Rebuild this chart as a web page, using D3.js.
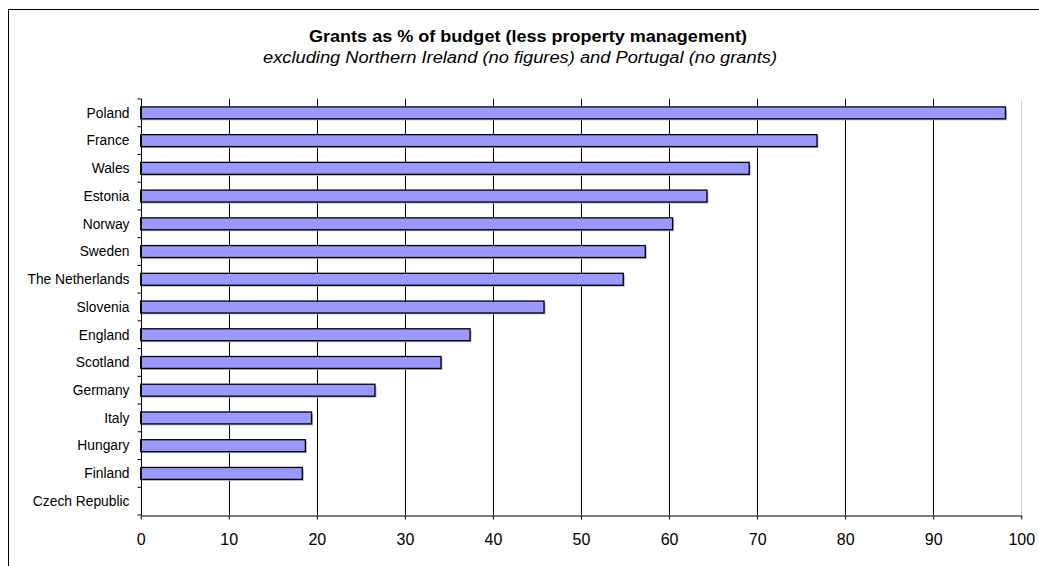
<!DOCTYPE html>
<html>
<head>
<meta charset="utf-8">
<script src="https://cdn.jsdelivr.net/npm/d3@7"></script>
<style>
  html, body { margin: 0; padding: 0; background: #fff; }
  svg { display: block; font-family: Arial, "Liberation Sans", sans-serif; }
</style>
</head>
<body>
<div id="chart"></div>
<script>
(function grants_bar() {

  const countries = ["Poland", "France", "Wales", "Estonia", "Norway", "Sweden",
    "The Netherlands", "Slovenia", "England", "Scotland", "Germany", "Italy",
    "Hungary", "Finland", "Czech Republic"];
  const grantShare = [98.2, 76.8, 69.1, 64.3, 60.4, 57.3, 54.8, 45.8, 37.4, 34.1,
    26.6, 19.4, 18.7, 18.35, 0];
  const xTicks = [0, 10, 20, 30, 40, 50, 60, 70, 80, 90, 100];

  const title = "Grants as % of budget (less property management)";
  const subtitle = "excluding Northern Ireland (no figures) and Portugal (no grants)";

  const width = 1039,
    height = 566;
  const margin = { top: 99, left: 140.7, right: 17.7, bottom: 51 };

  const data = countries.map((c, i) => ({ country: c, value: grantShare[i] }));

  const svg = d3.select("#chart")
    .append("svg")
    .attr("width", width)
    .attr("height", height);

  // outer frame
  svg.append("rect")
    .attr("x", 8.5).attr("y", 9.5)
    .attr("width", width).attr("height", height)
    .attr("fill", "none")
    .attr("stroke", "#000");

  const x = d3.scaleLinear()
    .domain([0, 100])
    .range([margin.left, width - margin.right]);

  const y = d3.scaleBand()
    .domain(countries)
    .range([margin.top, height - margin.bottom])
    .paddingInner(0.57)
    .paddingOuter(0.285);

  // gridlines
  svg.append("g")
    .selectAll("line")
    .data(xTicks.filter(d => d > 0))
    .join("line")
    .attr("x1", d => Math.round(x(d)) + 0.5)
    .attr("x2", d => Math.round(x(d)) + 0.5)
    .attr("y1", margin.top)
    .attr("y2", height - margin.bottom)
    .attr("stroke", d => d === 100 ? "#d4d4d4" : "#000")
    .attr("stroke-width", 1);

  // bars (with a small drop shadow)
  const bars = svg.append("g");
  bars.selectAll("rect.shadow")
    .data(data.filter(d => d.value > 0))
    .join("rect")
    .attr("class", "shadow")
    .attr("x", x(0) + 1.5)
    .attr("y", d => y(d.country) + 1.5)
    .attr("width", d => x(d.value) - x(0))
    .attr("height", y.bandwidth())
    .attr("fill", "#b0b0b0");

  bars.selectAll("rect.bar")
    .data(data.filter(d => d.value > 0))
    .join("rect")
    .attr("class", "bar")
    .attr("x", x(0))
    .attr("y", d => y(d.country))
    .attr("width", d => x(d.value) - x(0))
    .attr("height", y.bandwidth())
    .attr("fill", "#9999ff")
    .attr("stroke", "#000")
    .attr("stroke-width", 1.3);

  // x axis
  const xAxis = svg.append("g")
    .attr("transform", `translate(0,${height - margin.bottom + 0.5})`)
    .call(d3.axisBottom(x).tickValues(xTicks).tickSize(4).tickSizeOuter(0).tickPadding(14));
  xAxis.select(".domain").attr("stroke", "#000");
  xAxis.selectAll("text")
    .attr("font-size", 16)
    .attr("fill", "#000")
    .attr("font-family", "Arial, 'Liberation Sans', sans-serif");

  // y axis: ticks sit at category boundaries
  const yg = svg.append("g")
    .attr("transform", `translate(${Math.round(margin.left) + 0.5},0)`);
  yg.append("line")
    .attr("y1", margin.top).attr("y2", height - margin.bottom)
    .attr("stroke", "#000");
  const step = y.step();
  yg.selectAll("line.tick")
    .data(d3.range(countries.length + 1))
    .join("line")
    .attr("class", "tick")
    .attr("x1", -4).attr("x2", 0)
    .attr("y1", i => margin.top + i * step)
    .attr("y2", i => margin.top + i * step)
    .attr("stroke", "#000");
  yg.selectAll("text")
    .data(countries)
    .join("text")
    .attr("x", -12)
    .attr("y", d => y(d) + y.bandwidth() / 2)
    .attr("dy", "0.35em")
    .attr("text-anchor", "end")
    .attr("font-size", 13.8)
    .attr("fill", "#000")
    .text(d => d);

  // titles (Excel squeezes these, so fit them to the measured width)
  svg.append("text")
    .attr("x", 528)
    .attr("y", 42)
    .attr("text-anchor", "middle")
    .attr("font-size", 17)
    .attr("font-weight", "bold")
    .attr("textLength", 438)
    .attr("lengthAdjust", "spacingAndGlyphs")
    .text(title);

  svg.append("text")
    .attr("x", 520)
    .attr("y", 63)
    .attr("text-anchor", "middle")
    .attr("font-size", 16)
    .attr("font-style", "italic")
    .attr("textLength", 514)
    .attr("lengthAdjust", "spacingAndGlyphs")
    .text(subtitle);

})();
</script>
</body>
</html>
